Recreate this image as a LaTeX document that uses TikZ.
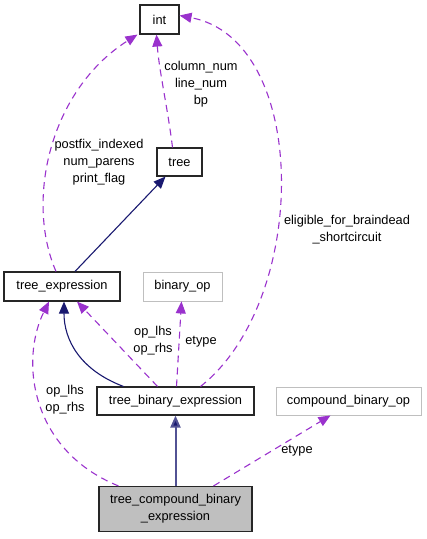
\documentclass[tikz,border=0pt]{standalone}
\usepackage{fontspec}
\setmainfont{Liberation Sans}
\usepackage{tikz}
\usetikzlibrary{arrows.meta,positioning}
\definecolor{usepurple}{HTML}{9A32CD}
\definecolor{inhblue}{HTML}{191970}
\definecolor{boxgray}{HTML}{BFBFBF}

\begin{document}
\begin{tikzpicture}[x=1pt,y=-1pt,font=\fontsize{12.8}{17}\selectfont,
  cls/.style={draw=black!85,line width=1.1pt,fill=white,inner sep=0pt,align=center},
  ext/.style={draw=boxgray,line width=0.9pt,fill=white,inner sep=0pt,align=center},
  usage/.style={draw=usepurple,line width=1.1pt,dash pattern=on 7pt off 5pt,-{Triangle[length=12pt,width=10pt]},fill=none},
  inherit/.style={draw=inhblue,line width=1.1pt,-{Triangle[length=12pt,width=10pt,fill=inhblue]}},
  lbl/.style={align=center,inner sep=0pt}]
\useasboundingbox (0,0) rectangle (427,539);
% classes
\node[cls,minimum width=39pt,minimum height=29pt] (int) at (159.5,19.5) {int};
\node[cls,minimum width=45pt,minimum height=28pt] (tree) at (179.5,162) {tree};
\node[cls,minimum width=116pt,minimum height=29pt] (texpr) at (62,286.5) {tree\_expression};
\node[ext,minimum width=79pt,minimum height=29pt] (binop) at (182.5,286.5) {binary\_op};
\node[cls,minimum width=157pt,minimum height=28pt] (tbin) at (175.5,401) {tree\_binary\_expression};
\node[ext,minimum width=145pt,minimum height=28pt] (cbinop) at (348.5,401) {compound\_binary\_op};
\node[cls,fill=boxgray,minimum width=153pt,minimum height=45pt] (tcbin) at (175.5,509) {tree\_compound\_binary\\\_expression};
% helper points on the borders
\coordinate (int-bl) at ([xshift=-2pt]int.south west);
\coordinate (int-r) at ([yshift=4pt]int.east);
% inheritance
\draw[inherit] ([xshift=13pt]texpr.north) -- ([xshift=-14pt]tree.south);
\draw[inherit] ([xshift=-52pt]tbin.north) .. controls (80,370) and (64,340) .. ([xshift=2pt]texpr.south);
\draw[inherit,draw=inhblue!75,line width=2pt] (tcbin.north) -- (tbin.south);
% usage
\draw[usage] ([xshift=-6pt]texpr.north) .. controls (25,200) and (50,90) .. (int-bl);
\draw[usage] ([xshift=-7pt]tree.north) .. controls (168,110) and (159,70) .. ([xshift=-3pt]int.south);
\draw[usage] ([xshift=25pt]tbin.north) .. controls (310,300) and (310,40) .. (int-r);
\draw[usage] ([xshift=-18pt]tbin.north) -- ([xshift=15pt]texpr.south);
\draw[usage] ([xshift=1pt]tbin.north) -- ([xshift=-1pt]binop.south);
\draw[usage] ([xshift=-57pt]tcbin.north) .. controls (30,450) and (20,360) .. ([xshift=-13pt]texpr.south);
\draw[usage] ([xshift=38pt]tcbin.north) -- ([xshift=-18pt]cbinop.south);
% labels
\node[lbl] (lpost) at (99,162) {postfix\_indexed\\num\_parens\\print\_flag};
\node[lbl] (lcol) at (201,84.5) {column\_num\\line\_num\\bp};
\node[lbl] (lelig) at (347,230) {eligible\_for\_braindead\\\_shortcircuit};
\node[lbl] (lops1) at (153,341) {op\_lhs\\op\_rhs};
\node[lbl] (letype1) at (201,342) {etype};
\node[lbl] (lops2) at (65,400) {op\_lhs\\op\_rhs};
\node[lbl] (letype2) at (297,451) {etype};
\end{tikzpicture}
\end{document}
